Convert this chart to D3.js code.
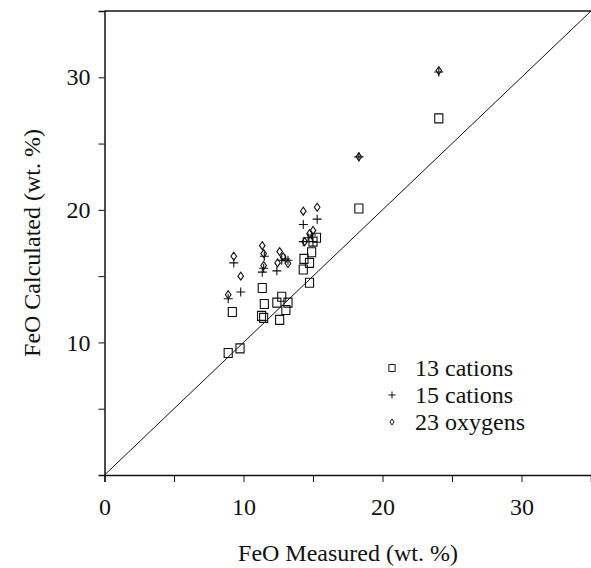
<!DOCTYPE html>
<html>
<head>
<meta charset="utf-8">
<script src="https://cdn.jsdelivr.net/npm/d3@7"></script>
<style>
  body { margin: 0; background: #fff; }
  text { font-family: 'Liberation Serif' !important; }
</style>
</head>
<body>
<svg id="chart" width="591" height="568"></svg>
<script>
// FeO measured vs FeO calculated, [measured, calculated]
const cations13 = [
    [8.9, 9.2], [9.75, 9.55], [9.2, 12.3], [11.35, 14.1], [11.5, 12.9], [11.3, 12.0],
    [11.45, 11.85], [12.4, 13.0], [12.75, 13.45], [12.6, 11.7], [13.05, 12.45], [13.2, 13.0],
    [14.75, 14.5], [14.3, 15.5], [14.35, 16.3], [14.75, 16.0], [14.9, 16.8], [15.25, 17.9],
    [15.0, 17.6], [18.3, 20.1], [24.05, 26.9]
];
const cations15 = [
    [8.9, 13.3], [9.3, 16.0], [9.8, 13.8], [11.35, 15.3], [11.45, 15.6], [11.5, 16.5],
    [12.4, 15.4], [12.75, 16.2], [13.0, 16.3], [13.2, 16.2], [14.3, 18.9], [14.3, 17.6],
    [14.65, 17.9], [14.9, 18.1], [15.3, 19.3], [15.0, 17.6], [18.3, 24.0], [24.05, 30.4]
];
const oxygens23 = [
    [8.9, 13.6], [9.3, 16.5], [9.8, 15.0], [11.35, 17.3], [11.45, 16.7], [11.45, 15.8],
    [12.45, 16.0], [12.6, 16.85], [12.85, 16.45], [13.2, 15.95], [14.3, 19.9], [15.3, 20.2],
    [14.75, 18.2], [15.0, 18.45], [14.4, 17.6], [18.3, 24.0], [24.05, 30.5]
];
const xTicks = [0, 5, 10, 15, 20, 25, 30];
const yTicks = [5, 10, 15, 20, 25, 30];
const tickLabels = [0, 10, 20, 30];
const legendItems = ["13 cations", "15 cations", "23 oxygens"];

const INK = "#111";
const svg = d3.select("#chart");
const plotLeft = 104.5, plotRight = 591, plotTop = 11, plotBottom = 475;

const x = d3.scaleLinear().domain([0, 35]).range([plotLeft, plotRight]);
const y = d3.scaleLinear().domain([0, 35]).range([plotBottom, plotTop]);

function styleText(sel, size) {
    sel.attr("font-family", null)
        .style("font-family", "'Liberation Serif'")
        .style("font-size", size + "px")
        .attr("fill", INK);
}

// axes
const xAxisG = svg.append("g")
    .attr("transform", `translate(0,${plotBottom})`)
    .call(d3.axisBottom(x).tickValues(xTicks).tickSize(7).tickPadding(16)
        .tickFormat(d => tickLabels.includes(d) ? d : ""));
xAxisG.attr("font-family", null);
xAxisG.select(".domain").attr("stroke-width", 1.5).attr("stroke", INK);
xAxisG.selectAll(".tick line").attr("stroke", INK);
styleText(xAxisG.selectAll("text"), 24);

const yAxisG = svg.append("g")
    .attr("transform", `translate(${plotLeft},0)`)
    .call(d3.axisLeft(y).tickValues(yTicks).tickSize(6).tickPadding(8)
        .tickFormat(d => tickLabels.includes(d) ? d : ""));
yAxisG.attr("font-family", null);
yAxisG.select(".domain").attr("stroke-width", 1.5).attr("stroke", INK);
yAxisG.selectAll(".tick line").attr("stroke", INK);
styleText(yAxisG.selectAll("text"), 24);

// top frame line
svg.append("line")
    .attr("x1", plotLeft).attr("x2", plotRight)
    .attr("y1", plotTop).attr("y2", plotTop)
    .attr("stroke", INK).attr("stroke-width", 1.5);

// 1:1 line
svg.append("line")
    .attr("x1", x(0)).attr("y1", y(0))
    .attr("x2", x(35)).attr("y2", y(35))
    .attr("stroke", INK).attr("stroke-width", 1);

// markers
function squarePath(s) {
    return `M${-s * 0.45},${-s * 0.5}H${s * 0.45}V${s * 0.5}H${-s * 0.45}Z`;
}
function plusPath(s) {
    return `M${-s / 2},0H${s / 2}M0,${-s / 2}V${s / 2}`;
}
function diamondPath(s) {
    return `M0,${-s / 2}L${s * 0.35},0L0,${s / 2}L${-s * 0.35},0Z`;
}

const marks = svg.append("g").attr("fill", "none").attr("stroke", INK).attr("stroke-width", 1.1);

marks.selectAll("path.sq")
    .data(cations13)
    .join("path")
    .attr("class", "sq")
    .attr("transform", d => `translate(${x(d[0])},${y(d[1])})`)
    .attr("d", squarePath(9));

marks.selectAll("path.pl")
    .data(cations15)
    .join("path")
    .attr("class", "pl")
    .attr("transform", d => `translate(${x(d[0])},${y(d[1])})`)
    .attr("d", plusPath(9));

marks.selectAll("path.dm")
    .data(oxygens23)
    .join("path")
    .attr("class", "dm")
    .attr("transform", d => `translate(${x(d[0])},${y(d[1])})`)
    .attr("d", diamondPath(8));

// legend
const legendPaths = [squarePath(7), plusPath(7), diamondPath(6)];
const legend = svg.append("g").attr("transform", "translate(392,368)");
legendItems.forEach((label, i) => {
    const row = legend.append("g").attr("transform", `translate(0,${i * 27})`);
    row.append("path")
        .attr("d", legendPaths[i])
        .attr("fill", "none").attr("stroke", INK).attr("stroke-width", 1);
    const t = row.append("text")
        .attr("x", 23).attr("y", 8)
        .text(label);
    styleText(t, 24);
});

// axis titles
const xTitle = svg.append("text")
    .attr("x", 348).attr("y", 561)
    .attr("text-anchor", "middle")
    .text("FeO Measured (wt. %)");
styleText(xTitle, 24);

const yTitle = svg.append("text")
    .attr("transform", `translate(40,${(plotTop + plotBottom) / 2}) rotate(-90)`)
    .attr("text-anchor", "middle")
    .text("FeO Calculated (wt. %)");
styleText(yTitle, 24);
</script>
</body>
</html>
